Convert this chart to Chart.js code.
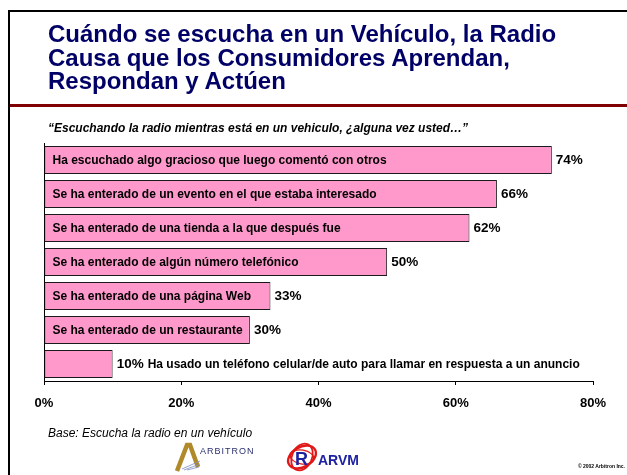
<!DOCTYPE html>
<html>
<head>
<meta charset="utf-8">
<script src="https://cdn.jsdelivr.net/npm/chart.js@4/dist/chart.umd.min.js"></script>
<style>
  body { margin: 0; background: #fff; }
  #page { position: relative; width: 627px; height: 475px; overflow: hidden; font-family: Arial, "Liberation Sans", sans-serif; }
  #page canvas { position: absolute; left: 0; top: 0; }
  .abs { position: absolute; white-space: nowrap; }
  #bordeIzq { left: 8px; top: 10px; width: 2px; height: 465px; background: #000; }
  #bordeSup { left: 8px; top: 10px; width: 619px; height: 2px; background: #000; }
  #lineaRoja { left: 10px; top: 104px; width: 617px; height: 3px; background: #800000; }
  #titulo { left: 48px; top: 22px; font-size: 24px; line-height: 23.5px; font-weight: bold; color: #000066; }
  #pregunta { left: 48px; top: 122px; font-size: 12px; line-height: 1; font-weight: bold; font-style: italic; color: #000; }
  #base { left: 48px; top: 427px; font-size: 12px; line-height: 1; font-style: italic; color: #000; }
  #copy { right: 2px; top: 464px; font-size: 5px; line-height: 1; font-weight: bold; color: #000; }
  #logos { left: 174px; top: 441px; }
</style>
</head>
<body>
<div id="page">
  <canvas id="grafico" width="627" height="475"></canvas>
  <div class="abs" id="bordeIzq"></div>
  <div class="abs" id="bordeSup"></div>
  <div class="abs" id="lineaRoja"></div>
  <div class="abs" id="titulo">Cuándo se escucha en un Vehículo, la Radio<br>Causa que los Consumidores Aprendan,<br>Respondan y Actúen</div>
  <div class="abs" id="pregunta">“Escuchando la radio mientras está en un vehiculo, ¿alguna vez usted…”</div>
  <div class="abs" id="base">Base: Escucha la radio en un vehículo</div>
  <svg class="abs" id="logos" width="190" height="32" viewBox="0 0 190 32">
    <!-- logo Arbitron -->
    <path d="M3 30 L13 4 L16 4 L24 26" fill="none" stroke="#B08A2A" stroke-width="4.5" stroke-linejoin="miter"/>
    <path d="M8 28 L26 20 M10 29 L26 23 M13 29 L25 26" stroke="#7A8CC0" stroke-width="0.8"/>
    <text x="26" y="13" font-family="Arial, Liberation Sans, sans-serif" font-size="9" letter-spacing="1" fill="#2B2F6E">ARBITRON</text>
    <!-- logo ARVM -->
    <ellipse cx="128" cy="16" rx="15" ry="10" fill="none" stroke="#E01818" stroke-width="2.4" transform="rotate(-30 128 16)"/>
    <ellipse cx="128" cy="16" rx="10" ry="14" fill="none" stroke="#E01818" stroke-width="1.8" transform="rotate(25 128 16)"/>
    <ellipse cx="128" cy="16" rx="12" ry="7" fill="none" stroke="#E01818" stroke-width="1.2" transform="rotate(10 128 16)"/>
    <text x="121" y="24" font-family="Arial, Liberation Sans, sans-serif" font-size="18" font-weight="bold" fill="#1E22A0">R</text>
    <text x="144" y="24" font-family="Arial, Liberation Sans, sans-serif" font-size="14" font-weight="bold" fill="#1E22A0">ARVM</text>
  </svg>
  <div class="abs" id="copy">© 2002 Arbitron Inc.</div>
</div>
<script>
// datos
var categorias = [
    'Ha escuchado algo gracioso que luego comentó con otros',
    'Se ha enterado de un evento en el que estaba interesado',
    'Se ha enterado de una tienda a la que después fue',
    'Se ha enterado de algún número telefónico',
    'Se ha enterado de una página Web',
    'Se ha enterado de un restaurante',
    'Ha usado un teléfono celular/de auto para llamar en respuesta a un anuncio'
];
var valores = [74, 66, 62, 50, 33, 30, 10];
var ticksX = [0, 20, 40, 60, 80];

var fuente = 'Arial, "Liberation Sans", sans-serif';

// dibuja el texto dentro de la barra y el porcentaje al final
var etiquetasBarras = {
    id: 'etiquetasBarras',
    afterDatasetsDraw: function(chart) {
        var ctx = chart.ctx;
        var meta = chart.getDatasetMeta(0);
        ctx.save();
        ctx.fillStyle = '#000';
        ctx.textBaseline = 'middle';
        meta.data.forEach(function(barra, i) {
            var fin = barra.x;
            var inicio = barra.base;
            var y = barra.y;
            var valorTxt = valores[i] + '%';

            ctx.font = 'bold 12px ' + fuente;
            var anchoTexto = ctx.measureText(categorias[i]).width;

            ctx.font = 'bold 13.5px ' + fuente;
            ctx.textAlign = 'left';
            ctx.fillText(valorTxt, fin + 4, y + 0.5);
            var anchoValor = ctx.measureText(valorTxt).width;

            ctx.font = 'bold 12px ' + fuente;
            if (anchoTexto + 14 < fin - inicio) {
                ctx.fillText(categorias[i], inicio + 8, y + 0.5);
            } else {
                // no cabe: se escribe despues del porcentaje
                ctx.fillText(categorias[i], fin + 4 + anchoValor + 4, y + 0.5);
            }
        });
        ctx.restore();
    }
};

var grafico = new Chart(document.getElementById('grafico').getContext('2d'), {
    type: 'bar',
    data: {
        labels: categorias,
        datasets: [{
            data: valores,
            backgroundColor: '#FF99CC',
            borderColor: '#1a1a1a',
            borderWidth: 1,
            borderSkipped: false,
            barPercentage: 0.82,
            categoryPercentage: 1
        }]
    },
    options: {
        indexAxis: 'y',
        responsive: false,
        animation: false,
        devicePixelRatio: 1,
        layout: { padding: { left: 44, right: 34, top: 143, bottom: 0 } },
        plugins: {
            legend: { display: false },
            tooltip: { enabled: false }
        },
        scales: {
            x: {
                min: ticksX[0],
                max: ticksX[ticksX.length - 1],
                afterFit: function(scale) { scale.height = 94; },
                afterBuildTicks: function(scale) {
                    scale.ticks = ticksX.map(function(v) { return { value: v }; });
                },
                ticks: {
                    callback: function(v) { return v + '%'; },
                    color: '#000',
                    font: { family: fuente, size: 13, weight: 'bold' },
                    padding: 11,
                    maxRotation: 0
                },
                grid: { drawOnChartArea: false, tickLength: 4, color: '#000', lineWidth: 1 },
                border: { display: true, color: '#000', width: 1 }
            },
            y: {
                afterFit: function(scale) { scale.width = 0; },
                ticks: { display: false },
                grid: { display: false },
                border: { display: true, color: '#000', width: 1 }
            }
        }
    },
    plugins: [etiquetasBarras]
});
</script>
</body>
</html>
